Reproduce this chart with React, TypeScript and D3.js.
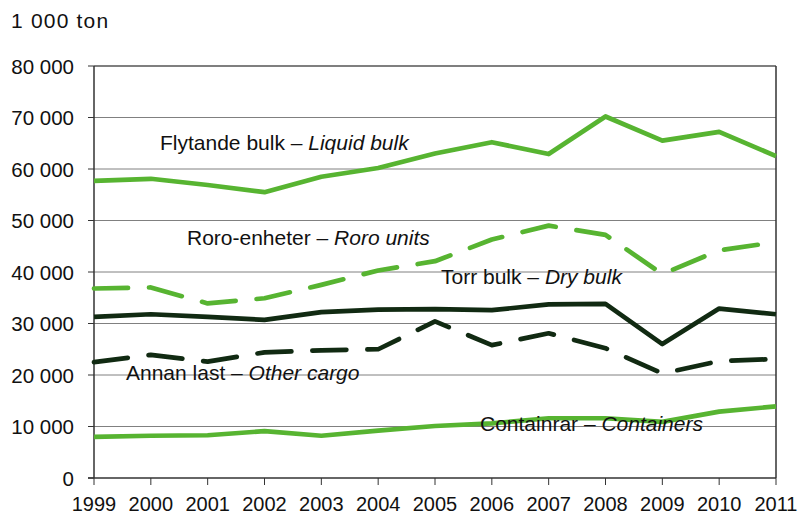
import React from "react";
import * as d3 from "d3";

const years = [1999, 2000, 2001, 2002, 2003, 2004, 2005, 2006, 2007, 2008, 2009, 2010, 2011];
const liquidBulk = [57700, 58100, 56900, 55500, 58500, 60200, 63000, 65200, 62900, 70200, 65500, 67200, 62500];
const roroUnits = [36800, 37000, 33900, 34900, 37500, 40300, 42100, 46300, 49000, 47200, 39600, 44200, 45800];
const dryBulk = [31300, 31800, 31300, 30700, 32200, 32700, 32800, 32600, 33700, 33800, 26000, 32900, 31800];
const otherCargo = [22500, 23900, 22600, 24400, 24800, 25000, 30400, 25800, 28100, 25200, 20300, 22700, 23100];
const containers = [8000, 8200, 8300, 9100, 8200, 9200, 10100, 10600, 11600, 11600, 10900, 12900, 13900];
const yTicks = [0, 10000, 20000, 30000, 40000, 50000, 60000, 70000, 80000];

const GREEN = "#57b431";
const DARK = "#112a12";

const series = [
  { values: liquidBulk, color: GREEN, dashed: false },
  { values: roroUnits, color: GREEN, dashed: true },
  { values: dryBulk, color: DARK, dashed: false },
  { values: otherCargo, color: DARK, dashed: true },
  { values: containers, color: GREEN, dashed: false },
];

const labels = [
  { a: "Flytande bulk – ", b: "Liquid bulk", x: 160, y: 150 },
  { a: "Roro-enheter – ", b: "Roro units", x: 187, y: 245 },
  { a: "Torr bulk – ", b: "Dry bulk", x: 441, y: 284 },
  { a: "Annan last – ", b: "Other cargo", x: 126, y: 380 },
  { a: "Containrar – ", b: "Containers", x: 480, y: 431 },
];

const fmt = (v: number) => d3.format(",")(v).replace(/,/g, " ");

export default function App() {
  const left = 94, right = 776, top = 66, bottom = 478;
  const x = d3.scaleLinear().domain([1999, 2011]).range([left, right]);
  const y = d3.scaleLinear().domain([0, 80000]).range([bottom, top]);
  const line = d3
    .line<number>()
    .x((_, i) => x(years[i]))
    .y((d) => y(d));
  const font = "'Liberation Sans', Arial, sans-serif";

  return (
    <svg
      width={800}
      height={515}
      style={{ position: "absolute", left: 0, top: 0, background: "#fff" }}
      fontFamily={font}
    >
      <rect width={800} height={515} fill="#fff" />
      {yTicks.slice(1).map((t) => (
        <line key={t} x1={left} x2={right} y1={y(t)} y2={y(t)} stroke={t === 80000 ? "#555" : "#808080"} strokeWidth={t === 80000 ? 1.5 : 1} />
      ))}
      <line x1={right} x2={right} y1={top} y2={bottom} stroke="#333" strokeWidth={1.5} />
      <line x1={left} x2={left} y1={top} y2={bottom} stroke="#333" strokeWidth={1.5} />
      <line x1={left - 6} x2={right} y1={bottom} y2={bottom} stroke="#333" strokeWidth={1.5} />
      {yTicks.map((t) => (
        <g key={t}>
          <line x1={left - 6} x2={left} y1={y(t)} y2={y(t)} stroke="#333" strokeWidth={1} />
          <text x={74} y={y(t) + 7.5} textAnchor="end" fontSize={20.5} fill="#111">
            {fmt(t)}
          </text>
        </g>
      ))}
      {years.map((yr) => (
        <g key={yr}>
          <line x1={x(yr)} x2={x(yr)} y1={bottom} y2={bottom + 7} stroke="#333" strokeWidth={1} />
          <text x={x(yr)} y={511} textAnchor="middle" fontSize={20} fill="#111">
            {yr}
          </text>
        </g>
      ))}
      <text x={11} y={28} fontSize={21} letterSpacing={1.2} fill="#111">1 000 ton</text>
      {series.map((s, i) => (
        <path
          key={i}
          d={line(s.values) || ""}
          fill="none"
          stroke={s.color}
          strokeWidth={4.7}
          strokeLinejoin="round"
          strokeLinecap={s.dashed ? "round" : "butt"}
          strokeDasharray={s.dashed ? "34 21" : undefined}
        />
      ))}
      {labels.map((l, i) => (
        <text key={i} x={l.x} y={l.y} fontSize={21} fill="#111">
          {l.a}
          <tspan fontStyle="italic">{l.b}</tspan>
        </text>
      ))}
    </svg>
  );
}
